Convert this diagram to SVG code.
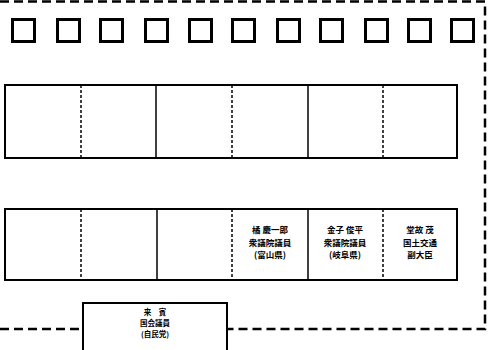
<svg xmlns="http://www.w3.org/2000/svg" width="495" height="350" viewBox="0 0 495 350">
<style>
.sq{fill:none;stroke:#000;stroke-width:3}
.box{fill:#fff;stroke:#000;stroke-width:2}
.sol{stroke:#000;stroke-width:1.5}
.dsh{stroke:#000;stroke-width:1.5;stroke-dasharray:3 2}
.bnd{fill:none;stroke:#000;stroke-width:2.5;stroke-dasharray:9 5}
.t{font-family:"Noto Sans CJK JP","Noto Sans",sans-serif;font-size:8.5px;font-weight:bold;text-anchor:middle;fill:#000}
.s{font-size:7.5px}
</style>
<rect width="495" height="350" fill="#fff"/>
<g id="boundary">
<polyline class="bnd" points="0,1.5 485,1.5 485,329 228,329"/>
<line class="bnd" x1="0" y1="329" x2="83" y2="329"/>
</g>
<g id="seats-top">
<rect class="sq" x="12.5" y="19.5" width="22" height="22"/>
<rect class="sq" x="57.5" y="19.5" width="22" height="22"/>
<rect class="sq" x="100.5" y="19.5" width="22" height="22"/>
<rect class="sq" x="145.5" y="19.5" width="22" height="22"/>
<rect class="sq" x="189.5" y="19.5" width="22" height="22"/>
<rect class="sq" x="232.5" y="19.5" width="22" height="22"/>
<rect class="sq" x="277.5" y="19.5" width="22" height="22"/>
<rect class="sq" x="320.5" y="19.5" width="22" height="22"/>
<rect class="sq" x="365.5" y="19.5" width="22" height="22"/>
<rect class="sq" x="408.5" y="19.5" width="22" height="22"/>
<rect class="sq" x="451.5" y="19.5" width="22" height="22"/>
</g>
<g id="row1">
<rect class="box" x="5" y="85" width="452" height="73"/>
<line class="dsh" x1="81" y1="85" x2="81" y2="158"/>
<line class="sol" x1="156" y1="85" x2="156" y2="158"/>
<line class="dsh" x1="232" y1="85" x2="232" y2="158"/>
<line class="sol" x1="308" y1="85" x2="308" y2="158"/>
<line class="dsh" x1="383" y1="85" x2="383" y2="158"/>
</g>
<g id="row2">
<rect class="box" x="5" y="209" width="452" height="71"/>
<line class="dsh" x1="81" y1="209" x2="81" y2="280"/>
<line class="sol" x1="157" y1="209" x2="157" y2="280"/>
<line class="dsh" x1="232" y1="209" x2="232" y2="280"/>
<line class="sol" x1="308" y1="209" x2="308" y2="280"/>
<line class="dsh" x1="383" y1="209" x2="383" y2="280"/>
</g>
<g id="seat-tachibana">
<text class="t" x="270" y="233">橘 慶一郎</text>
<text class="t" x="270" y="245.5">衆議院議員</text>
<text class="t" x="270" y="258">(富山県)</text>
</g>
<g id="seat-kaneko">
<text class="t" x="345" y="233">金子 俊平</text>
<text class="t" x="345" y="245.5">衆議院議員</text>
<text class="t" x="345" y="258">(岐阜県)</text>
</g>
<g id="seat-doko">
<text class="t" x="420" y="233">堂故 茂</text>
<text class="t" x="420" y="245.5">国土交通</text>
<text class="t" x="420" y="258">副大臣</text>
</g>
<g id="guest">
<rect class="box" x="83" y="303" width="144" height="60"/>
<text class="t s" x="155" y="315">来　賓</text>
<text class="t s" x="155" y="326">国会議員</text>
<text class="t s" x="155" y="337">(自民党)</text>
</g>
</svg>
